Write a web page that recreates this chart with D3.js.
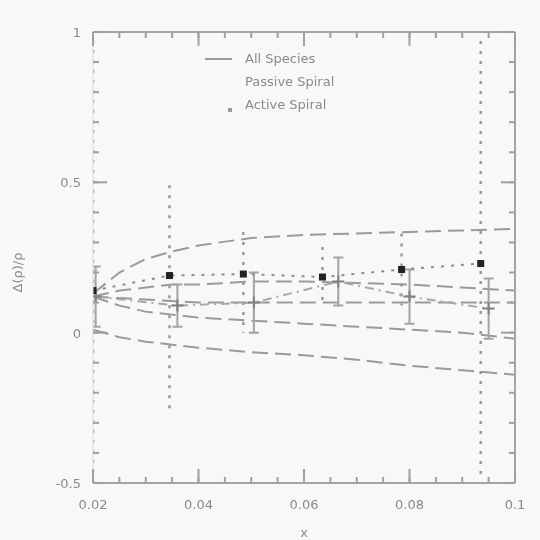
<!DOCTYPE html>
<html>
<head>
<meta charset="utf-8">
<script src="https://cdn.jsdelivr.net/npm/d3@7"></script>
<style>
  html, body { margin: 0; padding: 0; background: #f8f8f8; }
  svg { display: block; filter: blur(0.6px); }
  text { font-family: "DejaVu Sans", sans-serif; fill: #8a8a8a; }
</style>
</head>
<body>
<script>
// x positions of the bins
var xActive = [0.02, 0.0345, 0.0485, 0.0635, 0.0785, 0.0935]
var yActive = [0.14, 0.19, 0.195, 0.185, 0.21, 0.23]
var eActiveHi = [0.9, 0.3, 0.14, 0.1, 0.12, 0.74]
var eActiveLo = [0.9, 0.46, 0.195, 0.1, 0.12, 0.72]

var xPassive = [0.0205, 0.036, 0.0505, 0.0665, 0.08, 0.095]
var yPassive = [0.12, 0.09, 0.10, 0.17, 0.12, 0.08]
var ePassive = [0.1, 0.07, 0.1, 0.08, 0.09, 0.1]

// all species: band curves
var xAll = [0.02, 0.025, 0.03, 0.035, 0.04, 0.05, 0.06, 0.07, 0.08, 0.09, 0.1]
var allUpper = [0.13, 0.2, 0.245, 0.27, 0.29, 0.315, 0.325, 0.33, 0.335, 0.34, 0.345]
var allUpperIn = [0.12, 0.14, 0.15, 0.16, 0.16, 0.17, 0.17, 0.165, 0.16, 0.15, 0.14]
var allMean = [0.12, 0.115, 0.11, 0.105, 0.1, 0.1, 0.1, 0.1, 0.1, 0.1, 0.1]
var allLowerIn = [0.12, 0.09, 0.07, 0.06, 0.05, 0.04, 0.03, 0.02, 0.01, 0.0, -0.02]
var allLower = [0.01, -0.015, -0.03, -0.04, -0.05, -0.065, -0.075, -0.09, -0.11, -0.125, -0.14]

var xTicks = [0.02, 0.04, 0.06, 0.08, 0.1]
var xTickLabels = ["0.02", "0.04", "0.06", "0.08", "0.1"]
var yTicks = [-0.5, 0, 0.5, 1]
var yTickLabels = ["-0.5", "0", "0.5", "1"]
var legendLabels = ["All Species", "Passive Spiral", "Active Spiral"]

var width = 540
var height = 540
var margin = {left: 93, right: 25, top: 32, bottom: 57}

var svg = d3.select("body")
    .append("svg")
        .attr("width", width)
        .attr("height", height)

var x = d3.scaleLinear().domain([0.02, 0.1]).range([margin.left, width - margin.right])
var y = d3.scaleLinear().domain([-0.5, 1]).range([height - margin.bottom, margin.top])

svg.append("clipPath").attr("id", "clip")
    .append("rect")
        .attr("x", x(0.02)).attr("y", y(1))
        .attr("width", x(0.1) - x(0.02)).attr("height", y(-0.5) - y(1))

var plot = svg.append("g").attr("clip-path", "url(#clip)")

// all species curves, long dashes
var allLine = d3.line().x(function(d, i){ return x(xAll[i]) }).y(function(d){ return y(d) })
;[allUpper, allUpperIn, allMean, allLowerIn, allLower].forEach(function(c){
    plot.append("path")
        .attr("d", allLine(c))
        .attr("fill", "none")
        .attr("stroke", "#9a9a9a")
        .attr("stroke-width", 2)
        .attr("stroke-dasharray", "16,7")
})

// passive spiral
var passive = xPassive.map(function(v, i){ return {x: v, y: yPassive[i], e: ePassive[i]} })
plot.append("path")
    .attr("d", d3.line().x(function(d){ return x(d.x) }).y(function(d){ return y(d.y) })(passive))
    .attr("fill", "none")
    .attr("stroke", "#a8a8a8")
    .attr("stroke-width", 2)
    .attr("stroke-dasharray", "9,5,2,5")
plot.selectAll("passiveErr")
    .data(passive)
    .enter()
    .append("line")
        .attr("x1", function(d){ return x(d.x) }).attr("x2", function(d){ return x(d.x) })
        .attr("y1", function(d){ return y(d.y + d.e) }).attr("y2", function(d){ return y(d.y - d.e) })
        .attr("stroke", "#a3a3a3")
        .attr("stroke-width", 2)
plot.selectAll("passiveCap")
    .data(passive)
    .enter()
    .append("path")
        .attr("d", function(d){
            var px = x(d.x)
            return "M" + (px - 5) + "," + y(d.y + d.e) + "h10M" + (px - 5) + "," + y(d.y - d.e) + "h10"
        })
        .attr("stroke", "#a3a3a3")
        .attr("stroke-width", 2)
plot.selectAll("passivePts")
    .data(passive)
    .enter()
    .append("path")
        .attr("d", function(d){
            var px = x(d.x), py = y(d.y)
            return "M" + (px - 6) + "," + py + "h12M" + px + "," + (py - 6) + "v12"
        })
        .attr("stroke", "#808080")
        .attr("stroke-width", 2)

// active spiral
var active = xActive.map(function(v, i){ return {x: v, y: yActive[i], hi: eActiveHi[i], lo: eActiveLo[i]} })
plot.append("path")
    .attr("d", d3.line().x(function(d){ return x(d.x) }).y(function(d){ return y(d.y) })(active))
    .attr("fill", "none")
    .attr("stroke", "#8c8c8c")
    .attr("stroke-width", 2)
    .attr("stroke-dasharray", "3,7")
plot.selectAll("activeErr")
    .data(active)
    .enter()
    .append("line")
        .attr("x1", function(d){ return x(d.x) }).attr("x2", function(d){ return x(d.x) })
        .attr("y1", function(d){ return y(d.y + d.hi) }).attr("y2", function(d){ return y(d.y - d.lo) })
        .attr("stroke", "#999")
        .attr("stroke-width", 2.5)
        .attr("stroke-dasharray", "3,7")
plot.selectAll("activePts")
    .data(active)
    .enter()
    .append("rect")
        .attr("x", function(d){ return x(d.x) - 3.5 })
        .attr("y", function(d){ return y(d.y) - 3.5 })
        .attr("width", 7).attr("height", 7)
        .attr("fill", "#222")

// frame
var frame = svg.append("g").attr("stroke", "#a5a5a5").attr("fill", "none")
frame.append("line").attr("x1", x(0.02)).attr("x2", x(0.1)).attr("y1", y(1)).attr("y2", y(1)).attr("stroke-width", 2)
frame.append("line").attr("x1", x(0.02)).attr("x2", x(0.1)).attr("y1", y(-0.5)).attr("y2", y(-0.5)).attr("stroke-width", 2)
frame.append("line").attr("x1", x(0.1)).attr("x2", x(0.1)).attr("y1", y(1)).attr("y2", y(-0.5)).attr("stroke-width", 2)
frame.append("line").attr("x1", x(0.02)).attr("x2", x(0.02)).attr("y1", y(1)).attr("y2", y(-0.5)).attr("stroke-width", 1).attr("stroke", "#dcdcdc")

// ticks, pointing inward
var xMinor = d3.range(0.025, 0.1, 0.005)
var yMinor = d3.range(-0.4, 1, 0.1)
var tickG = svg.append("g").attr("stroke", "#a0a0a0").attr("stroke-width", 2)
xMinor.forEach(function(t){
    tickG.append("line").attr("x1", x(t)).attr("x2", x(t)).attr("y1", y(-0.5)).attr("y2", y(-0.5) - 6)
    tickG.append("line").attr("x1", x(t)).attr("x2", x(t)).attr("y1", y(1)).attr("y2", y(1) + 6)
})
xTicks.forEach(function(t){
    tickG.append("line").attr("x1", x(t)).attr("x2", x(t)).attr("y1", y(-0.5)).attr("y2", y(-0.5) - 14)
    tickG.append("line").attr("x1", x(t)).attr("x2", x(t)).attr("y1", y(1)).attr("y2", y(1) + 14)
})
yMinor.forEach(function(t){
    tickG.append("line").attr("x1", x(0.02)).attr("x2", x(0.02) + 6).attr("y1", y(t)).attr("y2", y(t))
    tickG.append("line").attr("x1", x(0.1)).attr("x2", x(0.1) - 6).attr("y1", y(t)).attr("y2", y(t))
})
yTicks.forEach(function(t){
    tickG.append("line").attr("x1", x(0.02)).attr("x2", x(0.02) + 14).attr("y1", y(t)).attr("y2", y(t))
    tickG.append("line").attr("x1", x(0.1)).attr("x2", x(0.1) - 14).attr("y1", y(t)).attr("y2", y(t))
})

// tick labels
svg.selectAll("xlab")
    .data(xTicks)
    .enter()
    .append("text")
        .attr("x", function(d){ return x(d) })
        .attr("y", y(-0.5) + 26)
        .attr("text-anchor", "middle")
        .style("font-size", "13px")
        .text(function(d, i){ return xTickLabels[i] })
svg.selectAll("ylab")
    .data(yTicks)
    .enter()
    .append("text")
        .attr("x", x(0.02) - 12)
        .attr("y", function(d){ return y(d) + 5 })
        .attr("text-anchor", "end")
        .style("font-size", "13px")
        .text(function(d, i){ return yTickLabels[i] })

// axis titles
svg.append("text")
    .attr("x", (x(0.02) + x(0.1)) / 2)
    .attr("y", 537)
    .attr("text-anchor", "middle")
    .style("font-size", "13px")
    .text("x")
svg.append("text")
    .attr("transform", "translate(22," + y(0.2) + ") rotate(-90)")
    .attr("text-anchor", "middle")
    .style("font-size", "13px")
    .text("Δ(ρ)/ρ")

// legend
var lg = svg.append("g")
lg.append("line").attr("x1", 205).attr("x2", 232).attr("y1", 59).attr("y2", 59)
    .attr("stroke", "#999").attr("stroke-width", 2)
lg.append("rect").attr("x", 228).attr("y", 108).attr("width", 4).attr("height", 4).attr("fill", "#999")
lg.selectAll("lt")
    .data(legendLabels)
    .enter()
    .append("text")
        .attr("x", 245)
        .attr("y", function(d, i){ return 63 + i * 23 })
        .style("font-size", "13px")
        .text(function(d){ return d })
</script>
</body>
</html>
